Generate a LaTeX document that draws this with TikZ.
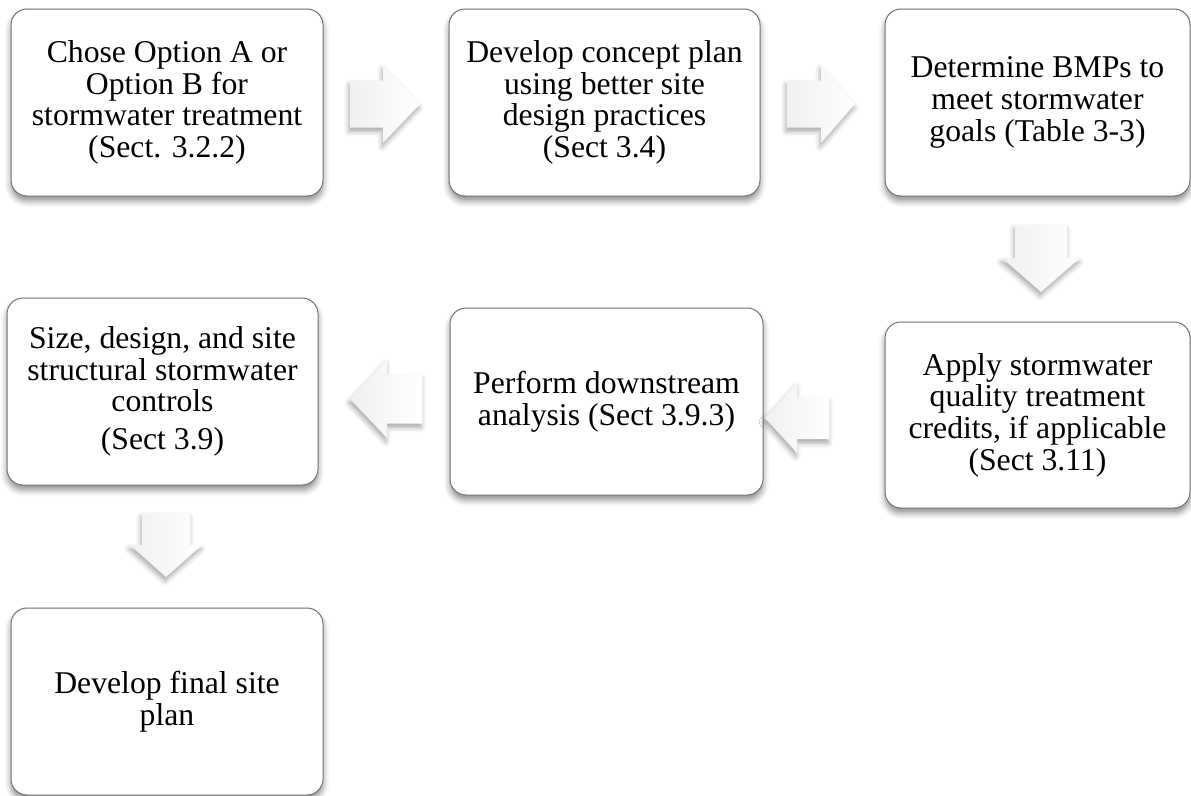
\documentclass[tikz,border=0pt]{standalone}
\usepackage{fontspec}
\setmainfont{Liberation Serif}
\usetikzlibrary{shadows.blur}
\begin{document}
\begin{tikzpicture}[x=1pt,y=-1pt,
  box/.style={draw=black!55, line width=1pt, fill=white, rounded corners=16pt,
    inner sep=0pt, align=center, font=\fontsize{31.7}{31.7}\selectfont,
    blur shadow={shadow xshift=0pt, shadow yshift=-5pt, shadow blur radius=6pt, shadow opacity=45}},
  arrowfill/.style={left color=black!6, right color=white, draw=none,
    blur shadow={shadow xshift=-1pt, shadow yshift=-4pt, shadow blur radius=5pt, shadow opacity=35}},
  pics/blockarrow/.style args={#1/#2/#3/#4}{code={
    \path[arrowfill] (-#1/2,-#3/2) -- (#1/2-#4,-#3/2) -- (#1/2-#4,-#2/2) -- (#1/2,0)
      -- (#1/2-#4,#2/2) -- (#1/2-#4,#3/2) -- (-#1/2,#3/2) -- cycle;
  }}
]
\useasboundingbox (0,0) rectangle (1191,795);

\node[box, minimum width=312pt, minimum height=187pt] (b1) at (167,102.5)
  {Chose Option A or\\Option B for\\stormwater treatment\\(Sect. 3.2.2)};
\node[box, minimum width=311pt, minimum height=187pt] (b2) at (604.5,102.5)
  {Develop concept plan\\using better site\\design practices\\(Sect 3.4)};
\node[box, minimum width=305pt, minimum height=187pt] (b3) at (1037.5,102.5)
  {Determine BMPs to\\meet stormwater\\goals (Table 3-3)};
\node[box, minimum width=305pt, minimum height=186pt] (b4) at (1037.5,415)
  {Apply stormwater\\quality treatment\\credits, if applicable\\(Sect 3.11)};
\node[box, minimum width=313pt, minimum height=187pt] (b5) at (606.5,401.5)
  {Perform downstream\\analysis (Sect 3.9.3)};
\node[box, minimum width=311pt, minimum height=187pt] (b6) at (162.5,391.5)
  {Size, design, and site\\structural stormwater\\controls\\[6pt](Sect 3.9)};
\node[box, minimum width=312pt, minimum height=187pt] (b7) at (167,701.5)
  {Develop final site\\plan};

\coordinate (a12) at (385,104);
\coordinate (a23) at (821,104);
\coordinate (a34) at (1041,258.5);
\coordinate (a45) at (797,418);
\coordinate (a56) at (386,399);
\coordinate (a67) at (166,545);

\pic at (a12) {blockarrow={70/78/47/37}};
\pic at (a23) {blockarrow={68/78/47/34}};
\pic[rotate=-90] at (a34) {blockarrow={67/78/52/34}};
\pic[rotate=180] at (a45) {blockarrow={64/70/42/32}};
\pic[rotate=180] at (a56) {blockarrow={72/78/49/37}};
\pic[rotate=-90] at (a67) {blockarrow={64/72/48/32}};
\end{tikzpicture}
\end{document}
